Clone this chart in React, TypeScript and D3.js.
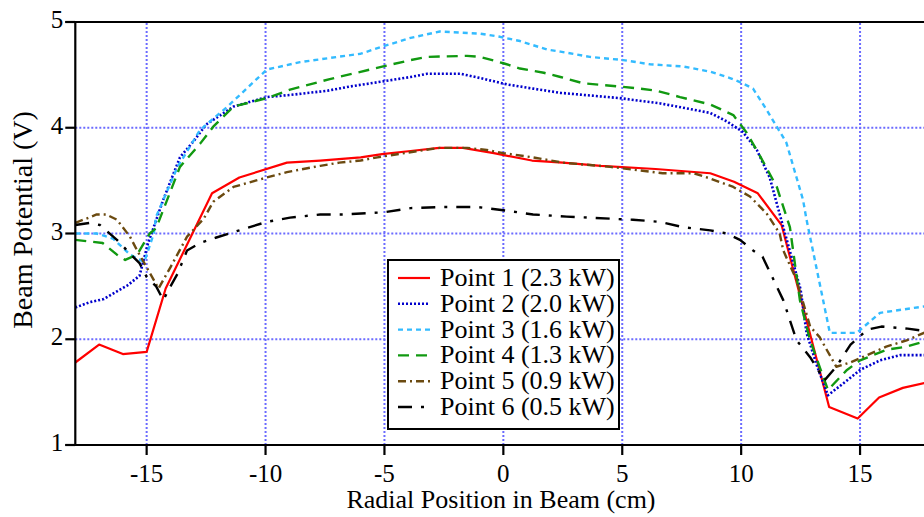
import React from "react";
import * as d3 from "d3";

const xTicks = [-15, -10, -5, 0, 5, 10, 15];
const yTicks = [1, 2, 3, 4, 5];
const seriesNames = [
  "Point 1 (2.3 kW)",
  "Point 2 (2.0 kW)",
  "Point 3 (1.6 kW)",
  "Point 4 (1.3 kW)",
  "Point 5 (0.9 kW)",
  "Point 6 (0.5 kW)",
];

const point1: [number, number][] = [
  [-18, 1.78], [-17, 1.95], [-16, 1.86], [-15, 1.88], [-14.2, 2.48], [-12.25, 3.38],
  [-11.1, 3.53], [-9.1, 3.67], [-7.7, 3.69], [-6, 3.72], [-5.1, 3.75], [-3.9, 3.78],
  [-2.7, 3.81], [-1.7, 3.81], [-0.4, 3.76], [1.2, 3.69], [2.5, 3.67], [4.1, 3.64],
  [6.4, 3.61], [8.7, 3.57], [9.7, 3.49], [10.7, 3.38], [11.7, 3.08], [13.7, 1.36],
  [14.9, 1.25], [15.8, 1.45], [16.8, 1.54], [18, 1.6],
];

const point2: [number, number][] = [
  [-18, 2.3], [-17.4, 2.35], [-16.8, 2.38], [-15.8, 2.51], [-15.3, 2.6], [-14.95, 2.9],
  [-14.3, 3.32], [-13.6, 3.72], [-13.0, 3.88], [-12.5, 4.03], [-11.35, 4.2], [-9.95, 4.29],
  [-8.97, 4.31], [-7.4, 4.35], [-6.45, 4.39], [-5.3, 4.43], [-3.9, 4.48], [-3.2, 4.51],
  [-1.8, 4.51], [-0.97, 4.47], [0.15, 4.41], [1.25, 4.37], [2.4, 4.33], [3.9, 4.3],
  [4.9, 4.28], [6.6, 4.23], [7.55, 4.19], [8.7, 4.14], [9.4, 4.06], [10.07, 3.96],
  [10.66, 3.79], [11.2, 3.53], [11.77, 3.06], [12.5, 2.47], [12.75, 2.06], [13.2, 1.74],
  [13.65, 1.47], [14.45, 1.61], [15, 1.71], [15.84, 1.8], [16.7, 1.85], [18, 1.85],
];

const point3: [number, number][] = [
  [-18, 3.0], [-17.1, 3.0], [-16.4, 2.95], [-15.7, 2.8], [-15.1, 2.73], [-14.7, 3.0],
  [-14.6, 3.16], [-13.7, 3.63], [-12.75, 3.98], [-11.6, 4.2], [-9.95, 4.55], [-8.55, 4.62],
  [-7.3, 4.66], [-6.0, 4.7], [-5.05, 4.77], [-3.9, 4.85], [-2.67, 4.91], [-0.97, 4.89],
  [-0.14, 4.86], [0.7, 4.82], [1.83, 4.74], [2.4, 4.72], [3.64, 4.67], [5.04, 4.64],
  [6.17, 4.6], [7.55, 4.58], [8.7, 4.53], [9.53, 4.47], [10.07, 4.42], [10.5, 4.37],
  [11.07, 4.17], [11.9, 3.86], [12.6, 3.32], [12.75, 3.13], [13.73, 2.06], [14.86, 2.06],
  [15.84, 2.25], [18, 2.32],
];

const point4: [number, number][] = [
  [-18, 2.94], [-16.85, 2.91], [-16.25, 2.8], [-15.9, 2.75], [-15.4, 2.8], [-14.87, 3.0],
  [-14.6, 3.05], [-13.6, 3.63], [-12.75, 3.85], [-12.2, 4.01], [-11.35, 4.2], [-9.95, 4.28],
  [-8.97, 4.36], [-7.3, 4.46], [-5.05, 4.58], [-3.9, 4.64], [-3.2, 4.67], [-1.53, 4.68],
  [-0.97, 4.67], [0, 4.61], [0.7, 4.56], [1.7, 4.52], [2.4, 4.48], [3.37, 4.42],
  [4.9, 4.39], [5.75, 4.37], [6.45, 4.35], [7.43, 4.29], [8.7, 4.22], [9.67, 4.12],
  [10.24, 3.95], [10.8, 3.73], [11.5, 3.44], [12.05, 3.06], [12.47, 2.37], [12.9, 1.99],
  [13.65, 1.52], [14.45, 1.71], [15, 1.8], [16.1, 1.9], [16.96, 1.93], [18, 2.0],
];

const point5: [number, number][] = [
  [-18, 3.1], [-17.1, 3.18], [-16.7, 3.18], [-16.25, 3.13], [-15.7, 2.97], [-15.4, 2.84],
  [-14.5, 2.48], [-14.0, 2.68], [-13.3, 2.97], [-12.6, 3.14], [-12.2, 3.3], [-11.35, 3.44],
  [-9.95, 3.53], [-9.1, 3.58], [-7.7, 3.64], [-6.9, 3.67], [-6.0, 3.69], [-5.3, 3.72],
  [-3.6, 3.78], [-2.67, 3.81], [-1.53, 3.81], [-0.7, 3.79], [0, 3.76], [1.25, 3.72],
  [2.5, 3.67], [4.5, 3.63], [6.7, 3.57], [8.0, 3.57], [8.7, 3.52], [9.67, 3.44],
  [10.37, 3.35], [11.07, 3.19], [11.62, 3.0], [11.77, 2.84], [12.33, 2.56], [12.9, 2.12],
  [13.3, 2.02], [14.0, 1.74], [14.58, 1.78], [15.1, 1.83], [16.1, 1.93], [16.96, 1.99],
  [18, 2.09],
];

const point6: [number, number][] = [
  [-18, 3.08], [-17.4, 3.1], [-16.96, 3.08], [-16.25, 2.94], [-15.7, 2.81], [-15.3, 2.72],
  [-15, 2.59], [-14.6, 2.5], [-14.3, 2.37], [-14.0, 2.5], [-13.7, 2.62], [-13.3, 2.84],
  [-12.75, 2.91], [-12.1, 2.96], [-11.1, 3.03], [-9.95, 3.11], [-8.97, 3.15], [-7.7, 3.18],
  [-6.7, 3.18], [-5.05, 3.2], [-3.9, 3.24], [-2.53, 3.25], [-1.1, 3.25], [0, 3.22],
  [1.25, 3.18], [2.66, 3.16], [4.5, 3.14], [5.45, 3.13], [6.58, 3.11], [7.55, 3.06],
  [8.7, 3.03], [9.4, 3.0], [9.95, 2.94], [10.5, 2.84], [10.9, 2.78], [11.77, 2.37],
  [12.33, 1.99], [12.9, 1.83], [13.5, 1.61], [14.0, 1.74], [14.6, 1.95], [15.3, 2.09],
  [15.9, 2.12], [17.0, 2.1], [18, 2.07],
];

const seriesData = [point1, point2, point3, point4, point5, point6];

const styles = [
  { color: "#ff0000", dash: "", width: 2.2 },
  { color: "#0000cc", dash: "2,2", width: 2.6 },
  { color: "#33bbff", dash: "5,4", width: 2.4 },
  { color: "#119911", dash: "11,7", width: 2.4 },
  { color: "#6b4a10", dash: "8,4,2,4", width: 2.4 },
  { color: "#000000", dash: "14,9,3,9", width: 2.4 },
];

const FONT = "'Liberation Serif', 'Times New Roman', serif";

export default function App() {
  const W = 924;
  const H = 517;
  const x = d3.scaleLinear().domain([-18, 18]).range([75.3, 931.4]);
  const y = d3.scaleLinear().domain([1, 5]).range([445, 22]);
  const line = d3
    .line<[number, number]>()
    .x((d) => x(d[0]))
    .y((d) => y(d[1]));

  const left = x(-18);
  const right = x(18);
  const top = y(5);
  const bottom = y(1);

  const legX = 388;
  const legY = 260;
  const legW = 231;
  const legH = 169;
  const rowH = 25.8;

  return (
    <svg
      width={W}
      height={H}
      style={{ position: "absolute", left: 0, top: 0, background: "#fff" }}
      fontFamily={FONT}
    >
      <defs>
        <clipPath id="plotclip">
          <rect x={left} y={top} width={right - left} height={bottom - top} />
        </clipPath>
      </defs>
      <rect x={0} y={0} width={W} height={H} fill="#fff" />
      {/* grid */}
      <g stroke="#6b6bff" strokeWidth={2} strokeDasharray="2,2">
        {xTicks.map((t) => (
          <line key={"gx" + t} x1={x(t)} x2={x(t)} y1={top + 1} y2={bottom} />
        ))}
        {yTicks
          .filter((t) => t > 1 && t < 5)
          .map((t) => (
            <line key={"gy" + t} x1={left} x2={right} y1={y(t)} y2={y(t)} />
          ))}
      </g>
      {/* series */}
      <g clipPath="url(#plotclip)" fill="none">
        {seriesData.map((s, i) => (
          <path
            key={"s" + i}
            d={line(s) || ""}
            stroke={styles[i].color}
            strokeWidth={styles[i].width}
            strokeDasharray={styles[i].dash}
            strokeLinejoin="round"
          />
        ))}
      </g>
      {/* axes */}
      <g stroke="#000" strokeWidth={2.2}>
        <line x1={left} x2={left} y1={top} y2={bottom} />
        <line x1={left - 10} x2={W} y1={bottom} y2={bottom} />
        <line x1={left - 10} x2={W} y1={top} y2={top} />
        {yTicks.map((t) => (
          <line key={"ty" + t} x1={left - 10} x2={left} y1={y(t)} y2={y(t)} />
        ))}
        {xTicks.map((t) => (
          <line key={"tx" + t} x1={x(t)} x2={x(t)} y1={bottom} y2={bottom + 10} />
        ))}
      </g>
      <g fontSize={25} fill="#000">
        {yTicks.map((t) => (
          <text key={"ly" + t} x={left - 12} y={y(t) + 6} textAnchor="end">
            {t}
          </text>
        ))}
        {xTicks.map((t) => (
          <text key={"lx" + t} x={x(t)} y={482} textAnchor="middle">
            {t}
          </text>
        ))}
      </g>
      <text x={501} y={508} textAnchor="middle" fontSize={26}>
        Radial Position in Beam (cm)
      </text>
      <text
        transform={`translate(32, 220) rotate(-90)`}
        textAnchor="middle"
        fontSize={28}
      >
        Beam Potential (V)
      </text>
      {/* legend */}
      <rect
        x={legX}
        y={legY}
        width={legW}
        height={legH}
        fill="#fff"
        stroke="#000"
        strokeWidth={2}
      />
      {seriesNames.map((n, i) => {
        const cy = legY + 18 + i * rowH;
        return (
          <g key={"lg" + i}>
            <line
              x1={legX + 10}
              x2={legX + 42}
              y1={cy}
              y2={cy}
              stroke={styles[i].color}
              strokeWidth={styles[i].width}
              strokeDasharray={styles[i].dash}
            />
            <text x={legX + 52} y={cy + 8} fontSize={26}>
              {n}
            </text>
          </g>
        );
      })}
    </svg>
  );
}
